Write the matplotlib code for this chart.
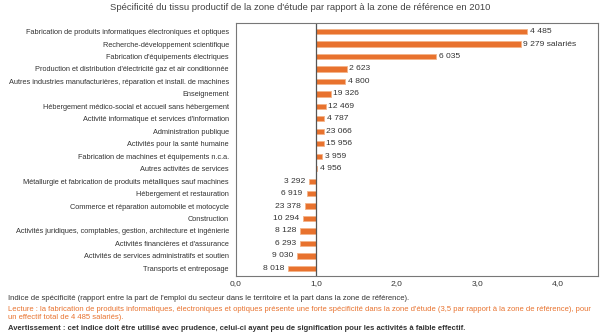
import numpy as np
import matplotlib.pyplot as plt

plt.rcParams['font.family'] = ['Liberation Sans Narrow', 'Liberation Sans', 'DejaVu Sans']

# secteurs (de haut en bas)
sectors = [
    "Fabrication de produits informatiques électroniques et optiques",
    "Recherche-développement scientifique",
    "Fabrication d'équipements électriques",
    "Production et distribution d'électricité gaz et air conditionnée",
    "Autres industries manufacturières, réparation et install. de machines",
    "Enseignement",
    "Hébergement médico-social et accueil sans hébergement",
    "Activité informatique et services d'information",
    "Administration publique",
    "Activités pour la santé humaine",
    "Fabrication de machines et équipements n.c.a.",
    "Autres activités de services",
    "Métallurgie et fabrication de produits métalliques sauf machines",
    "Hébergement et restauration",
    "Commerce et réparation automobile et motocycle",
    "Construction",
    "Activités juridiques, comptables, gestion, architecture et ingénierie",
    "Activités financières et d'assurance",
    "Activités de services administratifs et soutien",
    "Transports et entreposage",
]
specificity = [3.62, 3.54, 2.49, 1.38, 1.36, 1.18, 1.12, 1.10, 1.095, 1.09,
               1.075, 1.01, 0.91, 0.88, 0.86, 0.84, 0.80, 0.80, 0.76, 0.65]
labels = ["4 485", "9 279 salariés", "6 035", "2 623", "4 800", "19 326",
          "12 469", "4 787", "23 066", "15 956", "3 959", "4 956", "3 292",
          "6 919", "23 378", "10 294", "8 128", "6 293", "9 030", "8 018"]
xticks = [0, 1, 2, 3, 4]
xticklabels = ["0,0", "1,0", "2,0", "3,0", "4,0"]

orange = '#E8722E'
grey = '#333333'

fig = plt.figure(figsize=(6, 3.36), dpi=100)
ax = fig.add_axes([0.393, 0.179, 0.604, 0.753])

y = np.arange(len(sectors))
vals = np.array(specificity)
ax.barh(y, vals - 1, left=1, height=0.42, color=orange,
        edgecolor='#F4B48A', linewidth=0.6)

for yi, v, lab in zip(y, vals, labels):
    if v >= 1:
        ax.text(v + 0.03, yi, lab, ha='left', va='center', fontsize=6.1, color=grey)
    else:
        ax.text(v - 0.05, yi, lab, ha='right', va='center', fontsize=6.1, color=grey)

ax.axvline(1, color='#555555', linewidth=0.9)
ax.set_xlim(0, 4.5)
ax.set_ylim(len(sectors) - 0.4, -0.7)
ax.set_yticks(y)
ax.set_yticklabels(sectors, fontsize=5.35, color=grey)
ax.set_xticks(xticks)
ax.set_xticklabels(xticklabels, fontsize=6.1, color=grey)
ax.tick_params(axis='y', length=0, pad=5)
ax.tick_params(axis='x', length=0, pad=3)
for s in ax.spines.values():
    s.set_color('#777777')
    s.set_linewidth(0.8)

fig.text(0.5, 0.99, "Spécificité du tissu productif de la zone d'étude par rapport à la zone de référence en 2010",
         ha='center', va='top', fontsize=6.8, color='#444444')

fig.text(0.013, 0.113, "Indice de spécificité (rapport entre la part de l'emploi du secteur dans le territoire et la part dans la zone de référence).",
         ha='left', va='center', fontsize=5.5, color=grey)
fig.text(0.013, 0.080, "Lecture : la fabrication de produits informatiques, électroniques et optiques présente une forte spécificité dans la zone d'étude (3,5 par rapport à la zone de référence), pour",
         ha='left', va='center', fontsize=5.5, color=orange)
fig.text(0.013, 0.054, "un effectif total de 4 485 salariés).",
         ha='left', va='center', fontsize=5.5, color=orange)
fig.text(0.013, 0.021, "Avertissement : cet indice doit être utilisé avec prudence, celui-ci ayant peu de signification pour les activités à faible effectif.",
         ha='left', va='center', fontsize=5.5, color=grey, fontweight='bold')

fig.savefig('out.png', dpi=100, facecolor='white')
